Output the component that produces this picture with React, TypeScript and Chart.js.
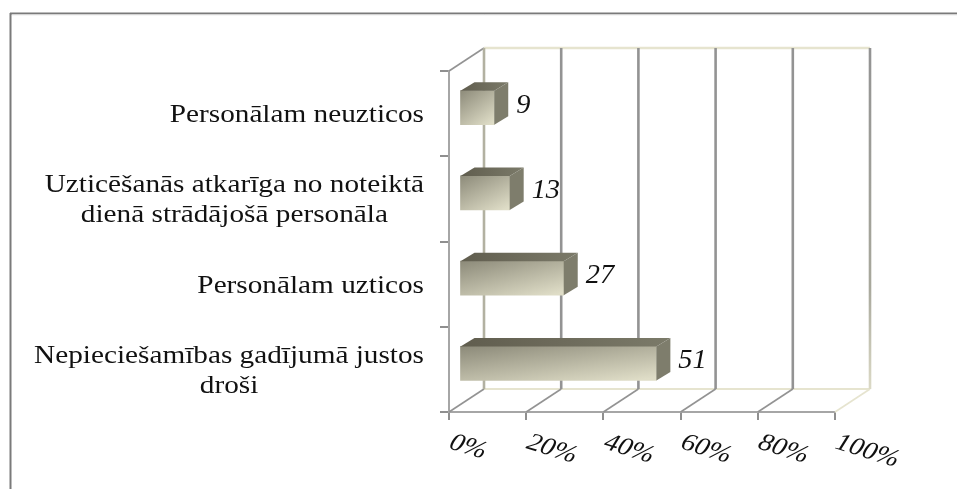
import React, { useEffect, useRef } from "react";
import { Chart, registerables } from "chart.js";

Chart.register(...registerables);

const categories: string[][] = [
  ["Personālam neuzticos"],
  ["Uzticēšanās atkarīga no noteiktā", "dienā strādājošā personāla"],
  ["Personālam uzticos"],
  ["Nepieciešamības gadījumā justos", "droši"],
];
const values: number[] = [9, 13, 27, 51];
const xTicks: number[] = [0, 20, 40, 60, 80, 100];

const FONT_FAMILY = '"Liberation Serif", "Times New Roman", serif';
const STRETCH = 1.17;
const WALL = { dx: 35, dy: -23 };
const BAR_OFFSET = { dx: 10.5, dy: -6 };
const BAR_DEPTH = { dx: 14, dy: -8.5 };
const BAR_THICKNESS = 34;
const GRAY = "#939393";
const BEIGE = "#e6e4cf";

function poly(ctx: CanvasRenderingContext2D, pts: number[][], fill: any) {
  ctx.beginPath();
  pts.forEach((p, i) => (i ? ctx.lineTo(p[0], p[1]) : ctx.moveTo(p[0], p[1])));
  ctx.closePath();
  ctx.fillStyle = fill;
  ctx.fill();
}

function seg(ctx: CanvasRenderingContext2D, x0: number, y0: number, x1: number, y1: number, color: any, w: number) {
  ctx.beginPath();
  ctx.moveTo(x0, y0);
  ctx.lineTo(x1, y1);
  ctx.strokeStyle = color;
  ctx.lineWidth = w;
  ctx.stroke();
}

const frame3d = {
  id: "frame3d",
  beforeDraw(chart: any) {
    const { ctx, width, height } = chart;
    ctx.save();
    ctx.fillStyle = "#ffffff";
    ctx.fillRect(0, 0, width, height);
    seg(ctx, 10, 13.5, width, 13.5, "#7a7a7a", 2);
    seg(ctx, 10.5, 13, 10.5, height, "#7a7a7a", 2);
    seg(ctx, 12, 15, width, 15, "#ececec", 1);
    ctx.restore();
  },
  beforeDatasetsDraw(chart: any) {
    const { ctx, chartArea: a, scales } = chart;
    const x = scales.x;
    ctx.save();
    ctx.lineCap = "butt";
    const backTop = a.top + WALL.dy;
    const backBottom = a.bottom + WALL.dy;
    // left wall top edge
    seg(ctx, a.left, a.top, a.left + WALL.dx, backTop, GRAY, 1.6);
    // floor back edge and wall top edge
    seg(ctx, a.left + WALL.dx, backBottom, a.right + WALL.dx, backBottom, BEIGE, 2);
    seg(ctx, a.left + WALL.dx, backTop, a.right + WALL.dx, backTop, BEIGE, 2.4);
    xTicks.forEach((t, i) => {
      const px = x.getPixelForValue(t);
      const last = i === xTicks.length - 1;
      seg(ctx, px, a.bottom, px + WALL.dx, backBottom, last ? BEIGE : GRAY, 1.6);
      let col: any = GRAY;
      if (i === 0) col = "#b2b1a1";
      if (last) {
        col = ctx.createLinearGradient(0, backTop, 0, backBottom);
        col.addColorStop(0, GRAY);
        col.addColorStop(0.7, "#a8a89c");
        col.addColorStop(1, "#dcdac6");
      }
      seg(ctx, px + WALL.dx, backTop, px + WALL.dx, backBottom, col, 2.6);
    });
    ctx.restore();
    // bars and their depth faces sit inside the plot depth
    ctx.save();
    ctx.translate(BAR_OFFSET.dx, BAR_OFFSET.dy);
  },
  afterDatasetsDraw(chart: any) {
    const { ctx } = chart;
    const meta = chart.getDatasetMeta(0);
    meta.data.forEach((bar: any) => {
      const left = bar.base;
      const right = bar.x;
      const top = bar.y - bar.height / 2;
      const bottom = bar.y + bar.height / 2;
      const d = BAR_DEPTH;
      const topGrad = ctx.createLinearGradient(left, 0, right + d.dx, 0);
      topGrad.addColorStop(0, "#605d4e");
      topGrad.addColorStop(1, "#7b7a69");
      poly(ctx, [[left, top], [left + d.dx, top + d.dy], [right + d.dx, top + d.dy], [right, top]], topGrad);
      poly(ctx, [[right, top], [right + d.dx, top + d.dy], [right + d.dx, bottom + d.dy], [right, bottom]], "#7e7d6c");
    });
    ctx.restore();

    // value labels
    ctx.save();
    ctx.fillStyle = "#111111";
    ctx.textAlign = "left";
    ctx.textBaseline = "middle";
    ctx.font = `italic 27px ${FONT_FAMILY}`;
    meta.data.forEach((bar: any, i: number) => {
      const px = bar.x + BAR_OFFSET.dx + BAR_DEPTH.dx + 8;
      const py = bar.y + BAR_OFFSET.dy - 2;
      ctx.save();
      ctx.translate(px, py);
      ctx.scale(1.05, 1);
      ctx.fillText(String(values[i]), 0, 0);
      ctx.restore();
    });
    ctx.restore();

    // category labels: centred lines, right edge against the axis
    const y = chart.scales.y;
    const labelRight = chart.chartArea.left - 25;
    ctx.save();
    ctx.fillStyle = "#111111";
    ctx.textBaseline = "middle";
    ctx.textAlign = "center";
    ctx.font = `25px ${FONT_FAMILY}`;
    categories.forEach((lines, i) => {
      const widest = Math.max(...lines.map((l) => ctx.measureText(l).width));
      const cy = y.getPixelForValue(i) + 2;
      lines.forEach((line, j) => {
        ctx.save();
        ctx.translate(labelRight - (widest * STRETCH) / 2, cy + (j - (lines.length - 1) / 2) * 30);
        ctx.scale(STRETCH, 1);
        ctx.fillText(line, 0, 0);
        ctx.restore();
      });
    });
    ctx.restore();

    // slanted percentage labels
    const x = chart.scales.x;
    ctx.save();
    ctx.fillStyle = "#111111";
    ctx.textBaseline = "alphabetic";
    ctx.textAlign = "left";
    ctx.font = `italic 25px ${FONT_FAMILY}`;
    xTicks.forEach((t) => {
      ctx.save();
      ctx.translate(x.getPixelForValue(t) - 1, chart.chartArea.bottom + 36);
      ctx.scale(1.12, 1);
      ctx.rotate((19 * Math.PI) / 180);
      ctx.fillText(`${t}%`, 0, 0);
      ctx.restore();
    });
    ctx.restore();
  },
};

function barFill(c: any) {
  const ch = c.chart;
  const { x, y } = ch.scales;
  if (!x || !y || c.dataIndex === undefined) return "#b5b39f";
  const cy = y.getPixelForValue(c.dataIndex);
  const x0 = x.getPixelForValue(0);
  const x1 = x.getPixelForValue(values[c.dataIndex]);
  if (!Number.isFinite(cy) || !Number.isFinite(x0) || !Number.isFinite(x1)) return "#b5b39f";
  const top = cy - BAR_THICKNESS / 2;
  // diagonal sweep: the far corners reach partial shade, the opposite corner the lightest
  const a = 0.45 / (x1 - x0);
  const b = 0.6 / BAR_THICKNESS;
  const n = a * a + b * b;
  const g = ch.ctx.createLinearGradient(x0, top, x0 + a / n, top + b / n);
  g.addColorStop(0, "#8c8a79");
  g.addColorStop(1, "#dfddc7");
  return g;
}

export default function App() {
  const ref = useRef<HTMLCanvasElement>(null);
  useEffect(() => {
    const canvas = ref.current;
    if (!canvas) return;
    const chart = new Chart(canvas, {
      type: "bar",
      data: {
        labels: categories as any,
        datasets: [
          {
            data: values,
            barThickness: BAR_THICKNESS,
            borderWidth: 0,
            clip: false as any,
            backgroundColor: barFill,
          },
        ],
      },
      options: {
        indexAxis: "y",
        animation: false,
        responsive: false,
        maintainAspectRatio: false,
        layout: { padding: { left: 440, top: 71, right: 122, bottom: 69 } },
        plugins: { legend: { display: false }, tooltip: { enabled: false } },
        scales: {
          x: {
            min: 0,
            max: 100,
            ticks: { display: false, stepSize: 20 },
            grid: { drawOnChartArea: false, drawTicks: true, tickLength: 8, color: "#8f8f8f", lineWidth: 2 },
            border: { color: "#a6a6a6", width: 2 },
          },
          y: {
            ticks: { display: false },
            grid: { drawOnChartArea: false, drawTicks: true, tickLength: 9, color: "#8f8f8f", lineWidth: 2 },
            border: { color: "#a6a6a6", width: 2 },
          },
        },
      },
      plugins: [frame3d as any],
    } as any);
    chart.update();
    return () => chart.destroy();
  }, []);
  return (
    <div style={{ position: "absolute", left: 0, top: 0, width: 957, height: 489, overflow: "hidden" }}>
      <canvas ref={ref} width={957} height={489} style={{ display: "block", filter: "blur(0.45px)" }} />
    </div>
  );
}
